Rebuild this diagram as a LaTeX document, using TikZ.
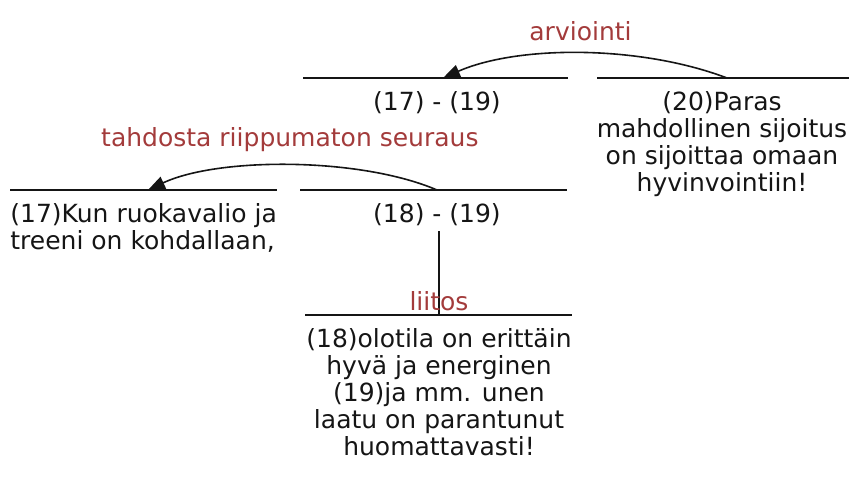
\documentclass[tikz,border=0pt]{standalone}
\usepackage{fontspec}
\setmainfont{DejaVu Sans}
\usetikzlibrary{arrows.meta,positioning}
\definecolor{Ink}{HTML}{151515}
\definecolor{RelRed}{HTML}{A33B3B}
\tikzset{seg/.style={draw=Ink,line width=1.2pt},
  txt/.style={inner sep=0pt,font=\fontsize{12.5}{13.5}\selectfont,text=Ink,align=center},
  rel/.style={inner sep=0pt,font=\fontsize{12.5}{13.5}\selectfont,text=RelRed},
  relarc/.style={-{Triangle[length=8.5pt,width=6.5pt]},line width=0.8pt,draw=Ink},
  joint/.style={line width=0.8pt,draw=Ink}}

\begin{document}
\begin{tikzpicture}[x=0.5pt,y=-0.5pt]
  \useasboundingbox (0,0) rectangle (851,487);
  % segment lines
  \coordinate (s1719w) at (303,78);  \coordinate (s1719e) at (568,78);
  \coordinate (s20w) at (597,78);    \coordinate (s20e) at (849,78);
  \coordinate (s17w) at (10,190);    \coordinate (s17e) at (277,190);
  \coordinate (s1819w) at (300,190); \coordinate (s1819e) at (567,190);
  \coordinate (s18w) at (305,315);   \coordinate (s18e) at (572,315);
  \coordinate (m1719) at (437,78);
  \coordinate (m20) at (722,78);
  \coordinate (m1819) at (437,190);
  \coordinate (m18) at (439,315);
  \coordinate (a20) at (727,78);
  \coordinate (a1719) at (443,78);
  \coordinate (a1819) at (437,190);
  \coordinate (a17) at (148,190);
  \draw[seg] (s1719w) -- (s1719e);
  \draw[seg] (s20w) -- (s20e);
  \draw[seg] (s17w) -- (s17e);
  \draw[seg] (s1819w) -- (s1819e);
  \draw[seg] (s18w) -- (s18e);
  % segment texts
  \node[txt,below=6.5pt of m1719] (t1719) {(17) - (19)};
  \node[txt,below=6.5pt of m20] (t20)
    {(20)Paras\\mahdollinen sijoitus\\on sijoittaa omaan\\hyvinvointiin!};
  \node[txt,align=left,below right=6.5pt and 0pt of s17w] (t17)
    {(17)Kun ruokavalio ja\\treeni on kohdallaan,};
  \node[txt,below=6.5pt of m1819] (t1819) {(18) - (19)};
  \node[txt,below=6.5pt of m18] (t18)
    {(18)olotila on erittäin\\hyvä ja energinen\\(19)ja mm. unen\\laatu on parantunut\\huomattavasti!};
  % relations
  \draw[relarc] (a20) .. controls +(-87,-33) and +(75,-33) .. (a1719)
    node[rel,midway,above=6pt] (rArv) {arviointi};
  \draw[relarc] (a1819) .. controls +(-77,-33) and +(70,-33) .. (a17)
    node[rel,midway,above=6.5pt] (rTah) {tahdosta riippumaton seuraus};
  \draw[joint,shorten <=2.5pt] (t1819.south -| m18) -- (m18)
    node[rel,at end,anchor=south,inner sep=1.5pt] (rLii) {liitos};
\end{tikzpicture}
\end{document}
